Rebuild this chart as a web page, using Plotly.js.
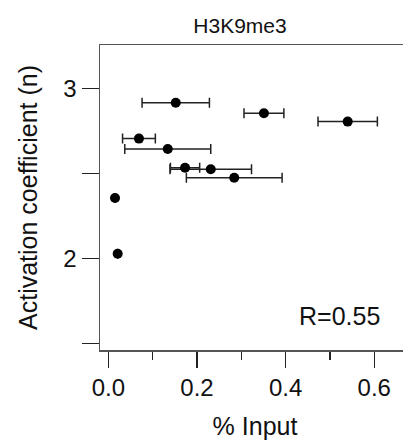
<!DOCTYPE html>
<html>
<head>
<meta charset="utf-8">
<script src="https://cdn.plot.ly/plotly-3.0.1.min.js"></script>
<style>
html,body{margin:0;padding:0;background:#fff;overflow:hidden;width:403px;height:443px;}
#chart{width:410px;height:443px;}
</style>
</head>
<body>
<div id="chart"></div>
<script>
// Data
var percentInput = [0.152, 0.351, 0.540, 0.069, 0.134, 0.173, 0.231, 0.284, 0.015, 0.021];
var activationN  = [2.915, 2.853, 2.804, 2.704, 2.643, 2.533, 2.524, 2.474, 2.355, 2.027];
var inputError   = [0.076, 0.045, 0.067, 0.037, 0.097, 0.033, 0.092, 0.108, null, null];

var yTickVals  = [1.5, 2, 2.5, 3];
var yTickText  = ['', '2', '', '3'];
var xTickVals  = [0, 0.2, 0.4, 0.6];
var xTickText  = ['0.0', '0.2', '0.4', '0.6'];

var chartTitle = 'H3K9me3';
var xTitle = '% Input';
var yTitle = 'Activation coefficient (n)';
var rLabel = 'R=0.55';

var FONT = 'Liberation Sans, Arial, Helvetica, sans-serif';

var trace = {
  x: percentInput,
  y: activationN,
  mode: 'markers',
  type: 'scatter',
  marker: {color: '#000', size: 10},
  error_x: {type: 'data', array: inputError, visible: true, color: '#222', thickness: 1.5, width: 5},
  showlegend: false,
  hoverinfo: 'x+y'
};

var layout = {
  width: 410, height: 443,
  margin: {l: 100, r: 0, t: 45, b: 93, pad: 0},
  paper_bgcolor: '#fff', plot_bgcolor: '#fff',
  font: {family: FONT, color: '#111', size: 24},
  title: {text: chartTitle, font: {family: FONT, size: 21, color: '#111'},
          x: 0.4516, xanchor: 'center', xref: 'paper', y: 0.942, yanchor: 'middle', yref: 'container'},
  xaxis: {
    range: [-0.0189, 0.6806], showgrid: false, zeroline: false,
    showline: true, linecolor: '#555', linewidth: 1.5, mirror: true,
    ticks: 'outside', ticklen: 16, tickwidth: 1.5, tickcolor: '#222',
    tickmode: 'array', tickvals: xTickVals, ticktext: xTickText,
    tickfont: {family: FONT, size: 24, color: '#111'},
    minor: {ticks: 'outside', ticklen: 8, tickwidth: 1.5, tickcolor: '#222', tickmode: 'array', tickvals: [0.1, 0.3, 0.5]},
    title: {text: xTitle, font: {family: FONT, size: 25, color: '#111'}, standoff: 17},
    automargin: false
  },
  yaxis: {
    range: [1.4606, 3.2547], showgrid: false, zeroline: false,
    showline: true, linecolor: '#555', linewidth: 1.5, mirror: true,
    ticks: 'outside', ticklen: 17, tickwidth: 1.5, tickcolor: '#222',
    tickmode: 'array', tickvals: yTickVals, ticktext: yTickText,
    tickfont: {family: FONT, size: 24, color: '#111'},
    title: {text: yTitle, font: {family: FONT, size: 25, color: '#111'}, standoff: 18},
    automargin: false
  },
  annotations: [{
    text: rLabel, xref: 'paper', yref: 'paper', x: 0.6345, y: 0.1115,
    xanchor: 'left', yanchor: 'middle', showarrow: false,
    font: {family: FONT, size: 25, color: '#111'}
  }]
};

Plotly.newPlot('chart', [trace], layout, {displayModeBar: false, staticPlot: true});
</script>
</body>
</html>
